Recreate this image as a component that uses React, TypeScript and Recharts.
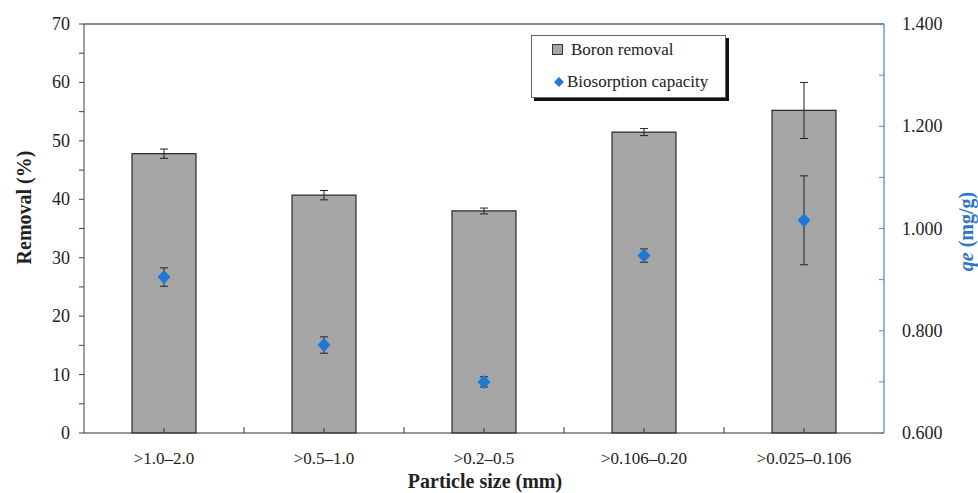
import React from 'react';
import { ComposedChart, Bar, Scatter, XAxis, YAxis, ErrorBar, Legend, ReferenceLine } from 'recharts';

const categories = ['>1.0–2.0', '>0.5–1.0', '>0.2–0.5', '>0.106–0.20', '>0.025–0.106'];
const removal = [47.8, 40.7, 38.0, 51.5, 55.2];
const removalErr = [0.8, 0.8, 0.5, 0.6, 4.8];
const capacity = [0.905, 0.772, 0.7, 0.947, 1.016];
const capacityErr = [0.018, 0.016, 0.01, 0.013, 0.087];
const leftTicks = [0, 5, 10, 15, 20, 25, 30, 35, 40, 45, 50, 55, 60, 65, 70];
const rightTicks = [0.6, 0.7, 0.8, 0.9, 1.0, 1.1, 1.2, 1.3, 1.4];

const data = categories.map((c, i) => ({
  category: c,
  removal: removal[i],
  removalErr: removalErr[i],
  capacity: capacity[i],
  capacityErr: capacityErr[i],
}));

const FONT = 'Liberation Serif, DejaVu Serif, serif';
const BLUE = '#1f77d6';
const AXIS_BLUE = '#4a8fe0';
const HALF_BAND = 80;

const XTick = (props: any) => {
  const { x, y, payload, index } = props;
  return (
    <g>
      <line x1={x} x2={x} y1={y} y2={y - 5} stroke="#333" />
      {index < categories.length - 1 && (
        <line x1={x + HALF_BAND} x2={x + HALF_BAND} y1={y} y2={y - 6} stroke="#333" />
      )}
      <text x={x} y={y + 31} textAnchor="middle" style={{ fontFamily: FONT }} fontSize={17} fill="#222">
        {payload.value}
      </text>
    </g>
  );
};

const LeftTick = (props: any) => {
  const { x, y, payload } = props;
  const major = payload.value % 10 === 0;
  return (
    <g>
      <line x1={x} x2={x - 5} y1={y} y2={y} stroke="#404040" />
      {major && (
        <text x={x - 14} y={y + 6} textAnchor="end" style={{ fontFamily: FONT }} fontSize={18} fill="#222">
          {payload.value}
        </text>
      )}
    </g>
  );
};

const RightTick = (props: any) => {
  const { x, y, payload } = props;
  const major = Math.round(payload.value * 10) % 2 === 0;
  return (
    <g>
      <line x1={x} x2={x - 5} y1={y} y2={y} stroke={AXIS_BLUE} />
      {major && (
        <text x={x + 18} y={y + 6} textAnchor="start" style={{ fontFamily: FONT }} fontSize={18} fill="#222">
          {payload.value.toFixed(3)}
        </text>
      )}
    </g>
  );
};

const Diamond = (props: any) => {
  const { cx, cy } = props;
  if (cx == null || cy == null) return null;
  const w = 6.5;
  const h = 7;
  return <polygon points={`${cx},${cy - h} ${cx + w},${cy} ${cx},${cy + h} ${cx - w},${cy}`} fill={BLUE} />;
};

const LegendBox = () => (
  <div
    style={{
      width: 195,
      height: 63,
      border: '1px solid #666',
      boxShadow: '3px 3px 0 #111',
      background: '#fff',
      fontFamily: FONT,
      fontSize: 17,
      color: '#222',
      boxSizing: 'border-box',
      position: 'relative',
      lineHeight: '20px',
    }}
  >
    <div style={{ position: 'absolute', left: 20, top: 4, display: 'flex', alignItems: 'center', whiteSpace: 'nowrap' }}>
      <svg width={12} height={12} style={{ marginRight: 7 }}>
        <rect x={0.5} y={0.5} width={10} height={10} fill="#a6a6a6" stroke="#333" />
      </svg>
      <span>Boron removal</span>
    </div>
    <div style={{ position: 'absolute', left: 22, top: 36, display: 'flex', alignItems: 'center', whiteSpace: 'nowrap' }}>
      <svg width={10} height={10} style={{ marginRight: 3 }}>
        <polygon points="5,0 10,5 5,10 0,5" fill={BLUE} />
      </svg>
      <span>Biosorption capacity</span>
    </div>
  </div>
);

export default function App() {
  return (
    <div style={{ position: 'absolute', left: 0, top: 0, background: '#fff' }}>
      <ComposedChart
        width={978}
        height={493}
        data={data}
        margin={{ top: 24, right: 0, bottom: 0, left: 0 }}
        barCategoryGap={0}
      >
        <XAxis
          dataKey="category"
          height={60}
          interval={0}
          tickSize={0}
          tickMargin={0}
          tickLine={false}
          axisLine={{ stroke: '#333' }}
          tick={<XTick />}
        />
        <YAxis
          yAxisId="left"
          width={84}
          domain={[0, 70]}
          ticks={leftTicks}
          interval={0}
          tickSize={0}
          tickMargin={0}
          tickLine={false}
          axisLine={{ stroke: '#404040' }}
          tick={<LeftTick />}
          label={{
            content: (p: any) => {
              const vb = p.viewBox;
              const cx = 24;
              const cy = vb.y + vb.height / 2 - 21;
              return (
                <text
                  x={cx}
                  y={cy}
                  transform={`rotate(-90 ${cx} ${cy})`}
                  textAnchor="middle"
                  dominantBaseline="central"
                  style={{ fontFamily: FONT }}
                  fontSize={20}
                  fontWeight="bold"
                  fill="#222"
                >
                  Removal (%)
                </text>
              );
            },
          }}
        />
        <YAxis
          yAxisId="right"
          orientation="right"
          width={94}
          domain={[0.6, 1.4]}
          ticks={rightTicks}
          interval={0}
          tickSize={0}
          tickMargin={0}
          tickLine={false}
          axisLine={{ stroke: AXIS_BLUE, strokeWidth: 1.3 }}
          tick={<RightTick />}
          label={{
            content: (p: any) => {
              const vb = p.viewBox;
              const cx = 966;
              const cy = vb.y + vb.height / 2 + 3;
              return (
                <text
                  x={cx}
                  y={cy}
                  transform={`rotate(-90 ${cx} ${cy})`}
                  textAnchor="middle"
                  dominantBaseline="central"
                  style={{ fontFamily: FONT }}
                  fontSize={20}
                  fontWeight="bold"
                  fill="#2e75c6"
                >
                  <tspan fontStyle="italic">qe</tspan>
                  <tspan> (mg/g)</tspan>
                </text>
              );
            },
          }}
        />
        <ReferenceLine yAxisId="left" y={70} stroke="#666" strokeWidth={1.5} />
        <Bar
          yAxisId="left"
          dataKey="removal"
          name="Boron removal"
          barSize={64}
          fill="#a6a6a6"
          stroke="#2a2a2a"
          strokeWidth={1.2}
          isAnimationActive={false}
        >
          <ErrorBar dataKey="removalErr" width={4} stroke="#222" strokeWidth={1} />
        </Bar>
        <Scatter
          yAxisId="right"
          dataKey="capacity"
          name="Biosorption capacity"
          fill={BLUE}
          shape={<Diamond />}
          isAnimationActive={false}
        >
          <ErrorBar dataKey="capacityErr" direction="y" width={4} stroke="#222" strokeWidth={1} />
        </Scatter>
        <Legend
          layout="vertical"
          align="center"
          verticalAlign="middle"
          wrapperStyle={{ left: 531, top: 35, width: 200 }}
          content={() => <LegendBox />}
        />
        <text x={485} y={488} textAnchor="middle" style={{ fontFamily: FONT }} fontSize={20} fontWeight="bold" fill="#222">
          Particle size (mm)
        </text>
      </ComposedChart>
    </div>
  );
}
